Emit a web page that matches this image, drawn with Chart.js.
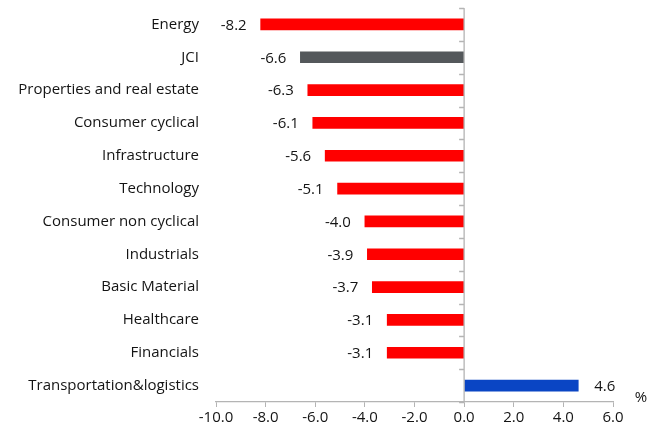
<!DOCTYPE html>
<html>
<head>
<meta charset="utf-8">
<script src="https://cdn.jsdelivr.net/npm/chart.js@4/dist/chart.umd.min.js"></script>
<style>
  html, body { margin: 0; padding: 0; background: #fff; }
  #wrap { width: 658px; height: 437px; position: relative; }
</style>
</head>
<body>
<div id="wrap"><canvas id="myChart" width="658" height="437"></canvas></div>
<script>
// categories and values
const categories = [
  'Energy', 'JCI', 'Properties and real estate', 'Consumer cyclical',
  'Infrastructure', 'Technology', 'Consumer non cyclical', 'Industrials',
  'Basic Material', 'Healthcare', 'Financials', 'Transportation&logistics'
]
const changes = [-8.2, -6.6, -6.3, -6.1, -5.6, -5.1, -4.0, -3.9, -3.7, -3.1, -3.1, 4.6]
const xTicks = [-10, -8, -6, -4, -2, 0, 2, 4, 6]
const unitLabel = '%'

const RED = '#ff0000', GREY = '#54585b', BLUE = '#0a45c4', AXIS = '#b4b4b4'
const FONT = '"Open Sans", sans-serif'
const TXT = '#141414'
let barColors = categories.map(c => c == 'JCI' ? GREY : RED)
barColors[categories.indexOf('Transportation&logistics')] = BLUE

// zero line with small ticks at the category boundaries (Excel style axis crossing at 0)
const zeroAxis = {
  id: 'zeroAxis',
  afterDatasetsDraw(chart) {
    const ctx = chart.ctx
    const x = chart.scales.x.getPixelForValue(0)
    const area = chart.chartArea
    ctx.save()
    ctx.strokeStyle = AXIS
    ctx.lineWidth = 1.3
    ctx.beginPath()
    ctx.moveTo(x, area.top)
    ctx.lineTo(x, area.bottom)
    const step = (area.bottom - area.top) / categories.length
    for (let i = 0; i <= categories.length; i++) {
      let yy = Math.round(area.top + i * step) + 0.5
      ctx.moveTo(x - 5, yy)
      ctx.lineTo(x, yy)
    }
    ctx.stroke()
    ctx.restore()
  }
}

// value labels next to bar ends + unit label
const valueLabels = {
  id: 'valueLabels',
  afterDatasetsDraw(chart) {
    const ctx = chart.ctx
    const meta = chart.getDatasetMeta(0)
    ctx.save()
    ctx.font = '15px ' + FONT
    ctx.fillStyle = TXT
    ctx.textBaseline = 'middle'
    meta.data.forEach((bar, i) => {
      let v = changes[i]
      if (v < 0) {
        ctx.textAlign = 'right'
        ctx.fillText(v.toFixed(1), bar.x - 14, bar.y + 1)
      } else {
        ctx.textAlign = 'left'
        ctx.fillText(v.toFixed(1), bar.x + 16, bar.y + 1)
      }
    })
    ctx.textAlign = 'center'
    ctx.fillText(unitLabel, chart.chartArea.right + 28, chart.chartArea.bottom - 4)
    ctx.restore()
  }
}

var ctx = document.getElementById('myChart')
var myChart = new Chart(ctx, {
  type: 'bar',
  data: {
    labels: categories,
    datasets: [{
      data: changes,
      backgroundColor: barColors,
      borderWidth: 0,
      barThickness: 11
    }]
  },
  options: {
    indexAxis: 'y',
    responsive: false,
    animation: false,
    layout: { padding: { top: 8, right: 45, bottom: 0, left: 0 } },
    plugins: {
      legend: { display: false },
      tooltip: { enabled: false }
    },
    scales: {
      x: {
        min: -10,
        max: 6,
        afterBuildTicks: s => { s.ticks = xTicks.map(v => ({ value: v })) },
        afterFit: s => { s.height = 35 },
        grid: { display: true, drawOnChartArea: false, drawTicks: true, tickLength: 5, color: AXIS },
        border: { display: true, color: AXIS, width: 1.3 },
        ticks: {
          font: { family: FONT, size: 15 },
          color: TXT,
          padding: 2,
          maxRotation: 0,
          callback: v => Number(v).toFixed(1)
        }
      },
      y: {
        afterFit: s => { s.width = 216; s.paddingTop = 0; s.paddingBottom = 0 },
        grid: { display: false, drawTicks: false },
        border: { display: false },
        ticks: {
          font: { family: FONT, size: 15 },
          color: TXT,
          padding: 17
        }
      }
    }
  },
  plugins: [zeroAxis, valueLabels]
})
</script>
</body>
</html>
